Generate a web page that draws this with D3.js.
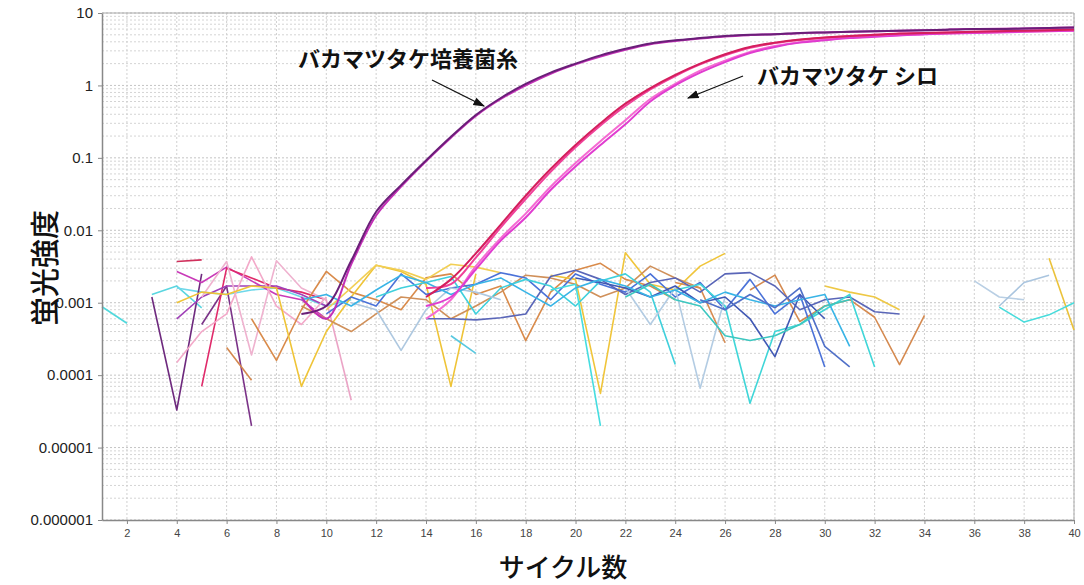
<!DOCTYPE html>
<html>
<head>
<meta charset="utf-8">
<script src="https://cdn.jsdelivr.net/npm/d3@7"></script>
<style>
  body { margin: 0; background: #fff; }
  svg { display: block; }
</style>
</head>
<body>
<div id="chart"></div>
<script>
// cycles and tick labels
const xTicks = d3.range(2, 41, 2);
const yTicks = [0.000001, 0.00001, 0.0001, 0.001, 0.01, 0.1, 1, 10];
const yTickLabels = ["0.000001", "0.00001", "0.0001", "0.001", "0.01", "0.1", "1", "10"];

// amplification curves (start cycle, values)
const myceliumStart = 9;
const myceliumA = [0.0007, 0.0009, 0.0038, 0.018, 0.042, 0.092, 0.195, 0.39, 0.67, 1.05, 1.5, 2.0, 2.6, 3.2, 3.8, 4.2, 4.5, 4.8, 5.0, 5.1, 5.3, 5.4, 5.5, 5.6, 5.7, 5.8, 5.9, 6.0, 6.0, 6.1, 6.2, 6.3];
const myceliumB = [0.0012, 0.0006, 0.0034, 0.016, 0.04, 0.09, 0.19, 0.38, 0.65, 1.0, 1.45, 1.95, 2.5, 3.1, 3.7, 4.1, 4.45, 4.75, 4.95, 5.1, 5.25, 5.4, 5.5, 5.6, 5.7, 5.8, 5.9, 6.0, 6.05, 6.1, 6.2, 6.3];

const shiroStart = 14;
const shiroA = [0.0012, 0.0021, 0.0048, 0.012, 0.03, 0.07, 0.15, 0.3, 0.56, 0.92, 1.4, 2.0, 2.7, 3.4, 3.9, 4.3, 4.6, 4.8, 5.0, 5.2, 5.3, 5.4, 5.5, 5.6, 5.7, 5.8, 5.9];
const shiroB = [0.0016, 0.0018, 0.0042, 0.011, 0.027, 0.064, 0.14, 0.28, 0.52, 0.88, 1.35, 1.95, 2.6, 3.3, 3.85, 4.25, 4.55, 4.8, 5.0, 5.15, 5.3, 5.4, 5.5, 5.6, 5.7, 5.8, 5.85];
const shiroC = [0.0009, 0.0012, 0.0029, 0.0072, 0.015, 0.036, 0.076, 0.15, 0.29, 0.6, 1.0, 1.5, 2.1, 2.8, 3.4, 3.9, 4.2, 4.5, 4.7, 4.9, 5.1, 5.2, 5.3, 5.4, 5.5, 5.6, 5.7];
const shiroD = [0.0006, 0.0011, 0.0032, 0.0078, 0.017, 0.04, 0.085, 0.17, 0.33, 0.65, 1.05, 1.6, 2.2, 2.9, 3.5, 3.95, 4.3, 4.55, 4.75, 4.95, 5.1, 5.25, 5.35, 5.45, 5.55, 5.65, 5.75];

// background noise of the negative wells: start cycle, then values
const noiseStarts = [1, 3, 4, 3, 5, 4, 4, 5, 4, 4, 5, 10, 6, 7, 4, 19, 10, 30, 39, 9, 24, 27, 10, 14, 12, 19, 24, 11, 22, 36, 37, 37, 15, 20, 9, 22, 25];
const noiseValues = [
  [0.00088, 0.00052],
  [0.0013, 0.0017, 0.00085],
  [0.0016, 0.0014, 0.0013, 0.0015, 0.0016, 0.0012, 0.0009, 0.0011],
  [0.0012, 0.000033, 0.0025],
  [0.0005, 0.0017, 0.00002],
  [0.0027, 0.0019, 0.0031, 0.002, 0.0013, 0.0011, 0.0006],
  [0.0037, 0.0039],
  [0.00007, 0.003, 0.0022, 0.0016, 0.0014, 0.0011],
  [0.0006, 0.0012, 0.0017, 0.0017, 0.0017, 0.0013, 0.0009],
  [0.00015, 0.0004, 0.0007, 0.0043, 0.0009, 0.0005, 0.0012],
  [0.0012, 0.0037, 0.00019, 0.0038, 0.0016, 0.0011],
  [0.0011, 0.000045],
  [0.00024, 0.000085],
  [0.0006, 0.00016, 0.0008, 0.0027, 0.0014, 0.0011, 0.0008, 0.0022, 0.0025, 0.0013, 0.0017, 0.0003, 0.0014, 0.0028, 0.0035, 0.0021, 0.0017, 0.0011],
  [0.001, 0.0014, 0.0013, 0.0017, 0.0016, 0.00007, 0.0004, 0.0012, 0.0033, 0.0027, 0.0018, 0.00007, 0.0025],
  [0.0024, 0.0021, 0.000056, 0.0049, 0.0018, 0.0015, 0.0032, 0.0048],
  [0.0008, 0.0016, 0.0033, 0.0028, 0.0021, 0.0034, 0.0031, 0.0026],
  [0.0017, 0.0014, 0.0012, 0.0008],
  [0.0041, 0.00042],
  [0.0009, 0.0006, 0.0004, 0.0007, 0.0012, 0.0011, 0.0006, 0.0009, 0.0014, 0.0024, 0.0022, 0.0018, 0.0012, 0.0016, 0.0032, 0.0022, 0.0016],
  [0.0019, 0.0016, 0.00028],
  [0.0015, 0.0024, 0.00055, 0.0009, 0.0011, 0.00063, 0.00014, 0.00067],
  [0.0007, 0.0012, 0.0009, 0.0025, 0.0013, 0.0016, 0.0018, 0.0026, 0.0022, 0.0011, 0.0025, 0.0018, 0.0014, 0.0025, 0.0012, 0.0019, 0.0008, 0.0021, 0.0007, 0.0013, 0.00013],
  [0.0006, 0.0006, 0.00058, 0.00062, 0.0007, 0.0023, 0.0028, 0.0021, 0.0013, 0.0019, 0.0022, 0.0014, 0.0025, 0.0026, 0.0017, 0.0008, 0.0011, 0.0012, 0.00075, 0.0007],
  [0.0012, 0.0016, 0.0019, 0.0023, 0.0007, 0.0016, 0.0021, 0.0017, 0.0009, 0.002, 0.0025, 0.0014, 0.00014],
  [0.0015, 0.0018, 0.00002],
  [0.0015, 0.0018, 0.0009, 0.000041, 0.0004, 0.0005, 0.0008, 0.0013, 0.00013],
  [0.001, 0.0008, 0.00022, 0.0008, 0.0016, 0.0014, 0.0011],
  [0.0016, 0.0005, 0.0016, 0.000066, 0.0012],
  [0.002, 0.0012, 0.0011],
  [0.0009, 0.0019, 0.0024],
  [0.00087, 0.00054, 0.00068, 0.001],
  [0.00035, 0.0002],
  [0.0022, 0.0019, 0.0016, 0.0012, 0.0017, 0.001, 0.0012, 0.0006, 0.00018, 0.0013, 0.0006],
  [0.0011, 0.0013, 0.0009, 0.0015, 0.0024, 0.0019, 0.0013, 0.0018, 0.0022, 0.0014, 0.0009, 0.0016, 0.0021, 0.0017, 0.0012, 0.0015, 0.001, 0.0014, 0.0011, 0.0009, 0.0011, 0.0013, 0.00025],
  [0.0012, 0.0018, 0.0011, 0.0009, 0.00035, 0.0003, 0.00035, 0.0005, 0.0009, 0.0011],
  [0.0011, 0.0008, 0.0013, 0.00085, 0.0016, 0.00025, 0.00013]
];
const noiseColors = ["#4fd8dc", "#5ad6e0", "#6fd8ea", "#6e2a7e", "#7b3388", "#c93ab8", "#d0305c", "#e02a6a", "#a040b8", "#f3a9c9", "#efb2cf", "#eba4c6", "#d4884e", "#d98b4b", "#efc437", "#f0c53a", "#f2cf55", "#eec845", "#ebc23a", "#d0905a", "#d88c52", "#d58a50", "#4b72d8", "#5a66b8", "#40d0dc", "#45dde0", "#3fd6d8", "#aec8e0", "#b3cce3", "#b9cfe4", "#aac5df", "#48dcdc", "#58c8e0", "#4058b4", "#38b4e6", "#3cc7c0", "#5070c8"];

const labelMycelium = "バカマツタケ培養菌糸";
const labelShiro = "バカマツタケ シロ";

const w = 1084, h = 585;
const padLeft = 102, padRight = 1074, padTop = 13, padBottom = 520;

const svg = d3.select("#chart").append("svg").attr("width", w).attr("height", h);

const x = d3.scaleLinear().domain([1, 40]).range([padLeft, padRight]);
const y = d3.scaleLog().domain([1e-6, 10]).range([padBottom, padTop]);

// grid
const minor = [];
for (let e = -6; e < 1; e++) for (let k = 2; k <= 9; k++) minor.push(k * Math.pow(10, e));
svg.append("g").selectAll("line").data(minor).enter().append("line")
  .attr("x1", padLeft).attr("x2", padRight)
  .attr("y1", d => y(d)).attr("y2", d => y(d))
  .attr("stroke", "#d4d4d4").attr("stroke-dasharray", "2,2").attr("stroke-width", 1);
svg.append("g").selectAll("line").data(yTicks).enter().append("line")
  .attr("x1", padLeft).attr("x2", padRight)
  .attr("y1", d => y(d)).attr("y2", d => y(d))
  .attr("stroke", "#c4c4c4").attr("stroke-dasharray", "2,2").attr("stroke-width", 1);
svg.append("g").selectAll("line").data(xTicks).enter().append("line")
  .attr("x1", d => x(d)).attr("x2", d => x(d))
  .attr("y1", padTop).attr("y2", padBottom)
  .attr("stroke", "#d0d0d0").attr("stroke-dasharray", "2,2").attr("stroke-width", 1);

// frame top/right
svg.append("line").attr("x1", padLeft).attr("x2", padRight).attr("y1", padTop).attr("y2", padTop).attr("stroke", "#aaa");
svg.append("line").attr("x1", padRight).attr("x2", padRight).attr("y1", padTop).attr("y2", padBottom).attr("stroke", "#aaa");

const line = d3.line().x(d => x(d[0])).y(d => y(d[1]));
const curveLine = d3.line().x(d => x(d[0])).y(d => y(d[1])).curve(d3.curveCatmullRom.alpha(0.5));
const toPts = (start, vals) => vals.map((v, i) => [start + i, v]);

// noise
svg.append("g").selectAll("path").data(noiseValues).enter().append("path")
  .attr("d", (d, i) => line(toPts(noiseStarts[i], d)))
  .attr("fill", "none")
  .attr("stroke", (d, i) => noiseColors[i])
  .attr("stroke-width", 1.6)
  .attr("stroke-linejoin", "round");

// amplification curves
const amp = [
  [shiroStart, shiroD, "#f56ad2"],
  [shiroStart, shiroC, "#e03cd0"],
  [shiroStart, shiroB, "#f0409a"],
  [shiroStart, shiroA, "#d41e5c"],
  [myceliumStart, myceliumB, "#c32fb6"],
  [myceliumStart, myceliumA, "#6a1f78"]
];
svg.append("g").selectAll("path").data(amp).enter().append("path")
  .attr("d", d => curveLine(toPts(d[0], d[1])))
  .attr("fill", "none")
  .attr("stroke", d => d[2])
  .attr("stroke-width", 2);

// axes
const yAxis = d3.axisLeft(y).tickValues(yTicks).tickFormat((d, i) => yTickLabels[i]).tickSize(4).tickSizeOuter(0);
const gy = svg.append("g").attr("transform", `translate(${padLeft},0)`).call(yAxis);
gy.select(".domain").attr("stroke", "#888").attr("stroke-width", 1.5);
gy.selectAll(".tick line").attr("stroke", "#888");
gy.selectAll("text").attr("font-family", "Liberation Sans, Arial, sans-serif").attr("font-size", 15).attr("fill", "#222").attr("dx", "-2");

const xAxis = d3.axisBottom(x).tickValues(xTicks).tickSize(4).tickSizeOuter(0);
const gx = svg.append("g").attr("transform", `translate(0,${padBottom})`).call(xAxis);
gx.select(".domain").attr("stroke", "#888").attr("stroke-width", 1.5);
gx.selectAll(".tick line").attr("stroke", "#888");
gx.selectAll("text").attr("font-family", "Liberation Sans, Arial, sans-serif").attr("font-size", 11).attr("fill", "#444").attr("dy", "0.9em");

// axis titles
svg.append("text")
  .attr("transform", "translate(56,268) rotate(-90)")
  .attr("text-anchor", "middle")
  .attr("font-family", "Noto Sans CJK JP")
  .attr("font-size", 29).attr("font-weight", 500).attr("fill", "#111")
  .text("蛍光強度");
svg.append("text")
  .attr("x", 563).attr("y", 577)
  .attr("text-anchor", "middle")
  .attr("font-family", "Noto Sans CJK JP")
  .attr("font-size", 26).attr("font-weight", 500).attr("fill", "#111")
  .text("サイクル数");

// annotations
svg.append("defs").append("marker")
  .attr("id", "arrow").attr("viewBox", "0 0 10 10").attr("refX", 9).attr("refY", 5)
  .attr("markerWidth", 9).attr("markerHeight", 9).attr("orient", "auto")
  .append("path").attr("d", "M0,1.5 L10,5 L0,8.5 z").attr("fill", "#111");

svg.append("text")
  .attr("x", 298).attr("y", 67)
  .attr("font-family", "Noto Sans CJK JP")
  .attr("font-size", 22).attr("font-weight", 700).attr("fill", "#111")
  .text(labelMycelium);
svg.append("line")
  .attr("x1", 432).attr("y1", 80).attr("x2", 484).attr("y2", 106)
  .attr("stroke", "#111").attr("stroke-width", 1.3).attr("marker-end", "url(#arrow)");

svg.append("text")
  .attr("x", 757).attr("y", 84)
  .attr("font-family", "Noto Sans CJK JP")
  .attr("font-size", 22).attr("font-weight", 700).attr("fill", "#111")
  .text(labelShiro);
svg.append("line")
  .attr("x1", 743).attr("y1", 76).attr("x2", 688).attr("y2", 98)
  .attr("stroke", "#111").attr("stroke-width", 1.3).attr("marker-end", "url(#arrow)");
</script>
</body>
</html>
